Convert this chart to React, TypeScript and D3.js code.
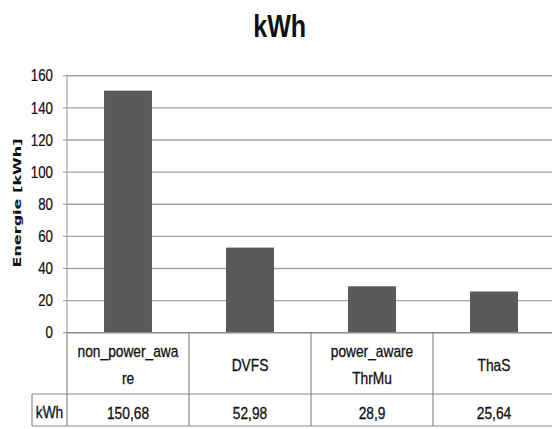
import React from "react";
import * as d3 from "d3";

const categories = ["non_power_aware", "DVFS", "power_aware ThrMu", "ThaS"];
const categoryLines = [["non_power_awa", "re"], ["DVFS"], ["power_aware", "ThrMu"], ["ThaS"]];
const values = [150.68, 52.98, 28.9, 25.64];
const valueLabels = ["150,68", "52,98", "28,9", "25,64"];
const yTicks = [0, 20, 40, 60, 80, 100, 120, 140, 160];
const seriesName = "kWh";
const title = "kWh";
const yTitle = "Energie [kWh]";

const W = 552;
const H = 429;
const left = 67;
const right = 555;
const yTop = 75.7;
const yBottom = 332.7;
const headerBottom = 394;
const tableBottom = 426;
const tableLeft = 32;

const FONT = "'Liberation Sans', Arial, sans-serif";
const TABLE_SIZE = 16;
const TABLE_SX = 0.86;

function NarrowText({
  x,
  y,
  sx,
  size,
  anchor = "middle",
  weight = "normal",
  dy,
  thick = 0.3,
  children,
}: {
  x: number;
  y: number;
  sx: number;
  size: number;
  anchor?: string;
  weight?: string;
  dy?: string;
  thick?: number;
  children: React.ReactNode;
}) {
  return (
    <text
      transform={`translate(${x},${y}) scale(${sx},1)`}
      textAnchor={anchor}
      fontFamily={FONT}
      fontSize={size}
      fontWeight={weight}
      dy={dy}
      fill="#111"
      stroke="#111"
      strokeWidth={thick}
    >
      {children}
    </text>
  );
}

export default function App() {
  const y = d3.scaleLinear().domain([0, 160]).range([yBottom, yTop]);
  const xCol = d3.scaleBand<string>().domain(categories).range([left, right]).padding(0);
  const xBar = d3
    .scaleBand<string>()
    .domain(categories)
    .range([left, right])
    .paddingInner(0.607)
    .paddingOuter(0.3035);

  const gridColor = "#a3a3a3";
  const tableColor = "#8a8a8a";

  return (
    <svg
      width={W}
      height={H}
      style={{ position: "absolute", left: 0, top: 0, background: "#fff" }}
    >
      <rect x={0} y={0} width={W} height={H} fill="#fff" />
      <NarrowText x={279.7} y={36.7} sx={0.785} size={32} weight="bold" thick={0}>
        {title}
      </NarrowText>

      {/* gridlines */}
      {yTicks.map((t) => (
        <g key={t}>
          <line x1={left} x2={right} y1={y(t)} y2={y(t)} stroke={gridColor} strokeWidth={1.4} />
          <line x1={left - 4} x2={left} y1={y(t)} y2={y(t)} stroke={gridColor} strokeWidth={1.2} />
          <NarrowText x={53} y={y(t)} sx={0.83} size={16} anchor="end" dy="0.36em" thick={0.25}>
            {t}
          </NarrowText>
        </g>
      ))}
      {/* y axis */}
      <line x1={left} x2={left} y1={yTop} y2={yBottom} stroke={gridColor} strokeWidth={1.2} />

      {/* y title */}
      <text
        transform={`translate(21, 203) rotate(-90)`}
        textAnchor="middle"
        fontFamily="'DejaVu Sans', Verdana, sans-serif"
        fontWeight="bold"
        fontSize={10.5}
        textLength={129}
        lengthAdjust="spacingAndGlyphs"
        fill="#111"
      >
        {yTitle}
      </text>

      {/* bars */}
      {categories.map((c, i) => (
        <rect
          key={c}
          x={xBar(c)}
          y={y(values[i])}
          width={xBar.bandwidth()}
          height={yBottom - y(values[i])}
          fill="#595959"
        />
      ))}

      {/* data table */}
      <g stroke={tableColor} strokeWidth={1.2} fill="none">
        <line x1={left} x2={right} y1={yBottom} y2={yBottom} />
        <line x1={tableLeft} x2={right} y1={headerBottom} y2={headerBottom} />
        <line x1={tableLeft} x2={right} y1={tableBottom} y2={tableBottom} />
        <line x1={tableLeft} x2={tableLeft} y1={headerBottom} y2={tableBottom} />
        <line x1={left} x2={left} y1={yBottom} y2={tableBottom} />
        {categories.map((c) => {
          const xr = (xCol(c) as number) + xCol.bandwidth();
          return <line key={c} x1={xr} x2={xr} y1={yBottom} y2={tableBottom} />;
        })}
      </g>

      {categories.map((c, i) => {
        const cx = (xCol(c) as number) + xCol.bandwidth() / 2;
        const lines = categoryLines[i];
        const baselines = lines.length === 2 ? [357, 384] : [371];
        return (
          <g key={c}>
            {lines.map((ln, j) => (
              <NarrowText key={j} x={cx} y={baselines[j]} sx={TABLE_SX} size={TABLE_SIZE}>
                {ln}
              </NarrowText>
            ))}
            <NarrowText x={cx} y={419} sx={TABLE_SX} size={TABLE_SIZE}>
              {valueLabels[i]}
            </NarrowText>
          </g>
        );
      })}
      <NarrowText x={(tableLeft + left) / 2} y={418} sx={TABLE_SX} size={TABLE_SIZE}>
        {seriesName}
      </NarrowText>
    </svg>
  );
}
